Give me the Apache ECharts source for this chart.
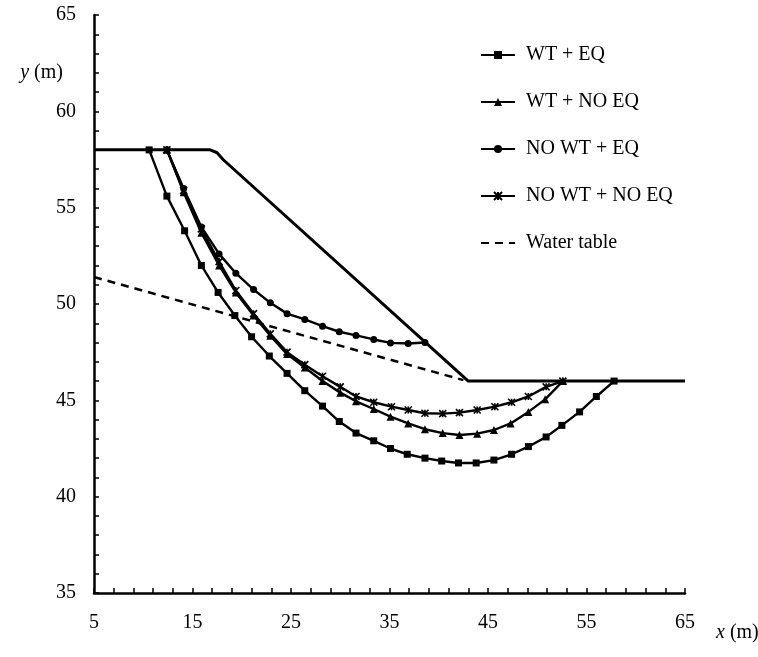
<!DOCTYPE html>
<html>
<head>
<meta charset="utf-8">
<script src="https://cdn.jsdelivr.net/npm/echarts@6/dist/echarts.min.js"></script>
<style>
  html, body { margin: 0; padding: 0; background: #fff; }
  #chart { width: 758px; height: 657px; }
</style>
</head>
<body>
<div id="chart"></div>
<script>
// ground surface (slope profile)
const slopeX = [5, 16.8, 17.5, 18.1, 43, 65]
const slopeY = [58, 58, 57.85, 57.5, 46, 46]

// water table
const waterX = [5, 42.5]
const waterY = [51.4, 46.05]

// WT + EQ
const wtEqX = [10.6, 12.4, 14.2, 15.9, 17.6, 19.3, 21.0, 22.8, 24.6, 26.4, 28.2, 29.9, 31.6, 33.4, 35.1, 36.8, 38.6, 40.3, 42.0, 43.8, 45.6, 47.4, 49.1, 50.9, 52.5, 54.3, 56.0, 57.8]
const wtEqY = [58, 55.6, 53.8, 52.0, 50.6, 49.4, 48.3, 47.3, 46.4, 45.5, 44.7, 43.9, 43.3, 42.9, 42.5, 42.2, 42.0, 41.85, 41.75, 41.75, 41.9, 42.2, 42.6, 43.1, 43.7, 44.4, 45.2, 46.0]

// WT + NO EQ
const wtNoEqX = [12.4, 14.1, 15.9, 17.7, 19.4, 21.2, 22.9, 24.6, 26.4, 28.2, 30.0, 31.6, 33.4, 35.1, 36.9, 38.6, 40.4, 42.1, 43.9, 45.6, 47.3, 49.1, 50.8, 52.6]
const wtNoEqY = [58, 55.8, 53.7, 52.0, 50.6, 49.4, 48.35, 47.4, 46.7, 46.0, 45.4, 44.95, 44.55, 44.15, 43.8, 43.5, 43.3, 43.2, 43.27, 43.46, 43.8, 44.4, 45.05, 46.0]

// NO WT + EQ
const noWtEqX = [12.4, 14.1, 15.9, 17.7, 19.4, 21.2, 22.9, 24.6, 26.4, 28.2, 29.9, 31.6, 33.4, 35.1, 36.9, 38.6]
const noWtEqY = [58, 56.0, 54.0, 52.6, 51.6, 50.75, 50.06, 49.5, 49.2, 48.85, 48.56, 48.37, 48.16, 47.98, 47.95, 48.0]

// NO WT + NO EQ
const noWtNoEqX = [12.4, 14.1, 15.9, 17.7, 19.4, 21.2, 22.9, 24.6, 26.4, 28.2, 30.0, 31.6, 33.4, 35.2, 36.9, 38.6, 40.4, 42.1, 43.9, 45.7, 47.4, 49.1, 50.9, 52.6]
const noWtNoEqY = [58, 55.9, 53.9, 52.2, 50.7, 49.5, 48.45, 47.5, 46.85, 46.25, 45.7, 45.2, 44.9, 44.67, 44.5, 44.33, 44.31, 44.36, 44.5, 44.67, 44.9, 45.2, 45.7, 46.0]

const legendNames = ['WT + EQ', 'WT + NO EQ', 'NO WT + EQ', 'NO WT + NO EQ', 'Water table']

const font = 'Liberation Serif'
const zip = (xs, ys) => xs.map((x, i) => [x, ys[i]])

const chart = echarts.init(document.getElementById('chart'))

const curve = (name, xs, ys, symbol, size) => ({
  name: name,
  type: 'line',
  data: zip(xs, ys),
  symbol: symbol,
  symbolSize: size,
  showSymbol: true,
  lineStyle: { color: '#000', width: 2.4 },
  itemStyle: { color: '#000', borderColor: '#000', borderWidth: 0 },
  animation: false,
})

const starSeries = curve('NO WT + NO EQ', noWtNoEqX, noWtNoEqY, 'path://M0,0L10,10M10,0L0,10M5,0L5,10', 7)
starSeries.itemStyle.borderWidth = 1.6

let option = {
  backgroundColor: '#fff',
  animation: false,
  grid: {
    left: 94,
    right: 73,
    top: 15,
    bottom: 64,
  },
  legend: {
    data: legendNames,
    orient: 'vertical',
    left: 475,
    top: 40,
    itemWidth: 34,
    itemHeight: 10,
    itemGap: 27,
    textStyle: {
      fontFamily: font,
      fontSize: 20,
      color: '#000',
      lineHeight: 20,
      padding: [0, 0, 0, 6],
    },
  },
  xAxis: {
    type: 'value',
    min: 5,
    max: 65,
    interval: 10,
    axisLine: { show: true, lineStyle: { color: '#000', width: 2.5 } },
    axisTick: { show: true, inside: true, length: 5, lineStyle: { color: '#000', width: 1.5 } },
    minorTick: { show: true, splitNumber: 5, length: 5, lineStyle: { color: '#000', width: 1.5 } },
    splitLine: { show: false },
    axisLabel: { color: '#000', fontFamily: font, fontSize: 20, margin: 20 },
  },
  yAxis: {
    type: 'value',
    min: 35,
    max: 65,
    interval: 5,
    axisLine: { show: true, lineStyle: { color: '#000', width: 2.5 } },
    axisTick: { show: true, inside: true, length: 5, lineStyle: { color: '#000', width: 1.5 } },
    minorTick: { show: true, splitNumber: 5, length: 5, lineStyle: { color: '#000', width: 1.5 } },
    splitLine: { show: false },
    axisLabel: { color: '#000', fontFamily: font, fontSize: 20, margin: 18 },
  },
  graphic: [
    {
      type: 'text',
      x: 63,
      y: 73,
      style: {
        text: '{i|y} (m)',
        font: '20px ' + font,
        fill: '#000',
        textAlign: 'right',
        textVerticalAlign: 'middle',
        rich: { i: { fontStyle: 'italic', fontFamily: font, fontSize: 20 } },
      },
    },
    {
      type: 'text',
      x: 716,
      y: 633,
      style: {
        text: '{i|x} (m)',
        font: '20px ' + font,
        fill: '#000',
        textAlign: 'left',
        textVerticalAlign: 'middle',
        rich: { i: { fontStyle: 'italic', fontFamily: font, fontSize: 20 } },
      },
    },
  ],
  series: [
    {
      name: 'Slope',
      type: 'line',
      data: zip(slopeX, slopeY),
      symbol: 'none',
      lineStyle: { color: '#000', width: 3 },
      z: 3,
    },
    {
      name: 'Water table',
      type: 'line',
      data: zip(waterX, waterY),
      symbol: 'none',
      lineStyle: { color: '#000', width: 2.5, type: [8, 6] },
      // transparent item colour so the legend shows only the dashes
      itemStyle: { color: 'rgba(0,0,0,0)' },
    },
    curve('WT + EQ', wtEqX, wtEqY, 'rect', 7),
    curve('WT + NO EQ', wtNoEqX, wtNoEqY, 'triangle', 8),
    curve('NO WT + EQ', noWtEqX, noWtEqY, 'circle', 7),
    starSeries,
  ],
}

option && chart.setOption(option)
</script>
</body>
</html>
